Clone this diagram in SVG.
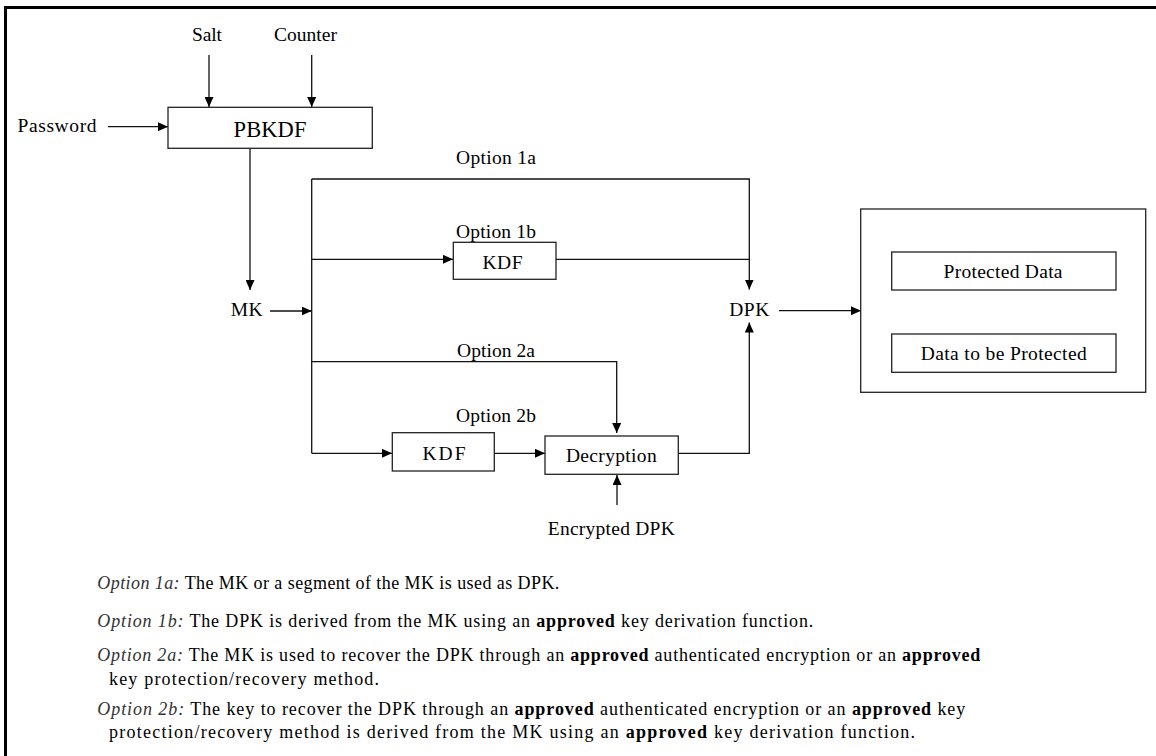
<svg xmlns="http://www.w3.org/2000/svg" width="1156" height="756" viewBox="0 0 1156 756" font-family="'Liberation Serif', 'Times New Roman', Tinos, 'DejaVu Serif', serif">
<style>
.bx{fill:#fff;stroke:#222;stroke-width:1.3}
.ln{fill:none;stroke:#111;stroke-width:1.3}
text{font-family:'Liberation Serif','Times New Roman',Tinos,'DejaVu Serif',serif}
.lb{font-size:19.5px;fill:#000;text-anchor:middle}
.ft{font-size:18px;fill:#000}
.it{font-style:italic;fill:#333}
.b{font-weight:bold}
</style>
<defs>
<marker id="ah" markerUnits="userSpaceOnUse" markerWidth="11" markerHeight="9" refX="10" refY="4.5" orient="auto">
<path d="M0,0 L10,4.5 L0,9 z" fill="#000"/>
</marker>
</defs>
<rect width="1156" height="756" fill="#fff"/>
<path d="M5.5,756 V7.5 H1156" fill="none" stroke="#000" stroke-width="3"/>

<g id="connectors">
<path class="ln" d="M209,55 V107" marker-end="url(#ah)"/>
<path class="ln" d="M311.7,55 V107" marker-end="url(#ah)"/>
<path class="ln" d="M108,126.7 H168" marker-end="url(#ah)"/>
<path class="ln" d="M250,148 V290" marker-end="url(#ah)"/>
<path class="ln" d="M270,311 H311.7" marker-end="url(#ah)"/>
<path class="ln" d="M311.7,179 V453.3"/>
<path class="ln" d="M311.7,179 H749.3 V289.5" marker-end="url(#ah)"/>
<path class="ln" d="M311.7,259.3 H453" marker-end="url(#ah)"/>
<path class="ln" d="M556,259.3 H749.3"/>
<path class="ln" d="M311.7,361.7 H616.7 V433" marker-end="url(#ah)"/>
<path class="ln" d="M311.7,453.3 H392" marker-end="url(#ah)"/>
<path class="ln" d="M494,453.3 H545" marker-end="url(#ah)"/>
<path class="ln" d="M678,453.3 H749.3 V322.5" marker-end="url(#ah)"/>
<path class="ln" d="M617,505 V475" marker-end="url(#ah)"/>
<path class="ln" d="M779,310.7 H861" marker-end="url(#ah)"/>
<path class="ln" d="M871.7,353.3 V272 H892" marker-end="url(#ah)"/>
<path class="ln" d="M871.7,353.3 H892" marker-end="url(#ah)"/>
<path class="ln" d="M963.3,293 V334" marker-end="url(#ah)"/>
<path class="ln" d="M1054.7,334 V292" marker-end="url(#ah)"/>
</g>

<g id="salt"><text class="lb" x="207" y="41" textLength="30">Salt</text></g>
<g id="counter"><text class="lb" x="305.5" y="41" textLength="63">Counter</text></g>
<g id="password"><text class="lb" x="57" y="131.7" textLength="79">Password</text></g>
<g id="pbkdf">
<rect class="bx" x="168" y="107.3" width="204.3" height="41"/>
<text class="lb" x="270" y="137" style="font-size:22.5px" textLength="73">PBKDF</text>
</g>
<g id="mk"><text class="lb" x="246.7" y="316" textLength="32">MK</text></g>
<g id="dpk"><text class="lb" x="749.3" y="316" textLength="40">DPK</text></g>
<g id="opt1a"><text class="lb" x="496" y="164" textLength="80">Option 1a</text></g>
<g id="opt1b"><text class="lb" x="496" y="238.3" textLength="80">Option 1b</text></g>
<g id="kdf1">
<rect class="bx" x="453.3" y="242.3" width="102.7" height="37"/>
<text class="lb" x="502.5" y="269" textLength="40">KDF</text>
</g>
<g id="opt2a"><text class="lb" x="496" y="356.7" textLength="78">Option 2a</text></g>
<g id="opt2b"><text class="lb" x="496" y="421.7" textLength="80">Option 2b</text></g>
<g id="kdf2">
<rect class="bx" x="392.3" y="432.7" width="102" height="38.3"/>
<text class="lb" x="444" y="460" textLength="43">KDF</text>
</g>
<g id="decryption">
<rect class="bx" x="545" y="436" width="133.3" height="38.3"/>
<text class="lb" x="611.3" y="461.7" textLength="90.7">Decryption</text>
</g>
<g id="encdpk"><text class="lb" x="611.3" y="535" textLength="127">Encrypted DPK</text></g>
<g id="storage">
<rect class="bx" x="860.7" y="209" width="285" height="183.3"/>
</g>
<g id="protected">
<rect class="bx" x="891.7" y="252" width="224.3" height="38"/>
<text class="lb" x="1003" y="278.3" textLength="119">Protected Data</text>
</g>
<g id="tobeprotected">
<rect class="bx" x="891.7" y="334" width="224.3" height="38.3"/>
<text class="lb" x="1003.7" y="360" textLength="166">Data to be Protected</text>
</g>

<g id="notes">
<text class="ft" x="97.3" y="589.3" textLength="462"><tspan class="it">Option 1a:</tspan> The MK or a segment of the MK is used as DPK.</text>
<text class="ft" x="97.3" y="626.7" textLength="716"><tspan class="it">Option 1b:</tspan> The DPK is derived from the MK using an <tspan class="b">approved</tspan> key derivation function.</text>
<text class="ft" x="97.3" y="661" textLength="883"><tspan class="it">Option 2a:</tspan> The MK is used to recover the DPK through an <tspan class="b">approved</tspan> authenticated encryption or an <tspan class="b">approved</tspan></text>
<text class="ft" x="109" y="685" textLength="270">key protection/recovery method.</text>
<text class="ft" x="97.3" y="715" textLength="868"><tspan class="it">Option 2b:</tspan> The key to recover the DPK through an <tspan class="b">approved</tspan> authenticated encryption or an <tspan class="b">approved</tspan> key</text>
<text class="ft" x="109" y="738.3" textLength="806">protection/recovery method is derived from the MK using an <tspan class="b">approved</tspan> key derivation function.</text>
</g>
</svg>
